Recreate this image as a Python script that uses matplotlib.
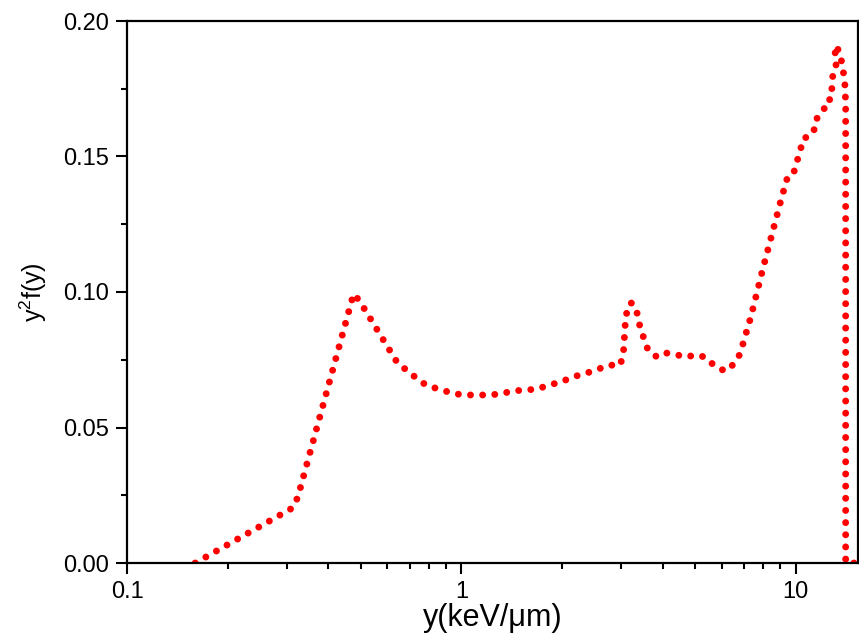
import numpy as np
import matplotlib
matplotlib.use('Agg')
import matplotlib.pyplot as plt
from matplotlib.ticker import FixedLocator, MultipleLocator, FormatStrFormatter, LogLocator, NullFormatter

plt.rcParams['font.family'] = ['Liberation Sans', 'DejaVu Sans']
plt.rcParams['mathtext.fontset'] = 'custom'
plt.rcParams['mathtext.rm'] = 'Liberation Sans'
plt.rcParams['mathtext.it'] = 'Liberation Sans'

# y (keV/um) and y^2 f(y)
lineal_energy = [0.16, 0.3125, 0.324, 0.476, 0.496, 0.644, 0.690, 0.739, 0.7915,
                 0.859, 0.934, 1.014, 1.108, 1.204, 1.316, 1.419, 1.552, 1.686,
                 1.832, 1.989, 2.144, 2.328, 2.529, 2.747, 2.984, 3.05, 3.10,
                 3.173, 3.237, 3.375, 3.42, 3.615, 3.846, 4.09, 4.35, 4.69,
                 5.03, 5.35, 5.69, 6.14, 6.53, 6.81, 7.34, 7.97, 9.08, 9.47,
                 9.86, 10.35, 10.6, 10.79, 11.1, 11.4, 11.56, 11.97, 12.2,
                 12.39, 12.72, 12.82, 12.9, 13.15, 13.2, 13.1, 13.15, 13.6,
                 13.75, 14.0, 14.1, 14.1, 16.0]
dose_dist = [0.0, 0.0203, 0.0242, 0.0993, 0.0967, 0.0738, 0.0709, 0.0679, 0.0653,
             0.0642, 0.0627, 0.0620, 0.0620, 0.0620, 0.0624, 0.0635, 0.0638, 0.0642,
             0.0657, 0.0668, 0.0686, 0.0698, 0.0712, 0.0730, 0.0730, 0.0770, 0.0908,
             0.0956, 0.0960, 0.0915, 0.0870, 0.0786, 0.0760, 0.0775, 0.0770, 0.0760,
             0.0768, 0.0760, 0.0730, 0.0708, 0.0734, 0.0771, 0.0908, 0.1085, 0.1350, 0.1428,
             0.1440, 0.1530, 0.1570, 0.1570, 0.1594, 0.1600, 0.1640, 0.1660, 0.1680,
             0.1710, 0.1710, 0.1750, 0.1797, 0.1820, 0.1840, 0.1867, 0.1910, 0.1880,
             0.1838, 0.1786, 0.1700, 0.0, 0.0]

fig = plt.figure(figsize=(8.59, 6.42), dpi=100)
ax = fig.add_axes([127/859, 79/642, 731/859, 542/642])

ax.plot(lineal_energy, dose_dist, color='#ff0000', lw=5.0,
        linestyle=(0, (0.001, 1.75)), dash_capstyle='round', solid_capstyle='round')

ax.set_xscale('log')
ax.set_xlim(0.1, 15.35)
ax.set_ylim(0, 0.20)

ax.xaxis.set_major_locator(FixedLocator([0.1, 1, 10]))
ax.xaxis.set_major_formatter(FormatStrFormatter('%g'))
ax.xaxis.set_minor_locator(LogLocator(base=10, subs=np.arange(2, 10)))
ax.xaxis.set_minor_formatter(NullFormatter())
ax.yaxis.set_major_locator(MultipleLocator(0.05))
ax.yaxis.set_minor_locator(MultipleLocator(0.025))
ax.yaxis.set_major_formatter(FormatStrFormatter('%.2f'))

for s in ax.spines.values():
    s.set_linewidth(1.6)
ax.tick_params(which='both', direction='out', top=False, right=False,
               width=1.5, labelsize=17, colors='black')
ax.tick_params(which='major', length=8, pad=5)
ax.tick_params(which='minor', length=4.5)

ax.set_xlabel('y(keV/\u03bcm)', fontsize=22, labelpad=0)
ax.set_ylabel('y$^{2}$f(y)', fontsize=18, labelpad=10)

fig.savefig('out.png', dpi=100)
